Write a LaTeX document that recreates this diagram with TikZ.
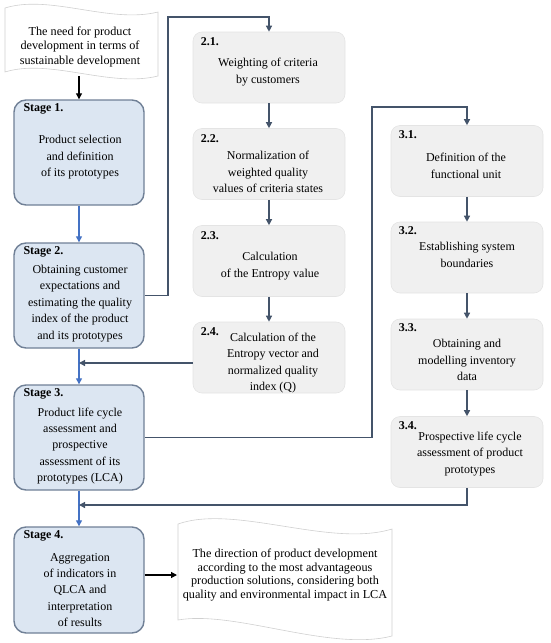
\documentclass[tikz,border=0pt]{standalone}
\usepackage{fontspec}
\setmainfont{Liberation Serif}
\usepackage{tikz}
\usetikzlibrary{arrows.meta}
\definecolor{stagefill}{RGB}{220,230,242}
\definecolor{stageline}{RGB}{112,128,150}
\definecolor{stepfill}{RGB}{240,240,240}
\definecolor{stepline}{RGB}{228,228,228}
\definecolor{linkcol}{RGB}{68,84,106}
\definecolor{stagearrow}{RGB}{68,114,196}
\definecolor{wavecol}{RGB}{208,208,208}

\begin{document}
\begin{tikzpicture}[x=1pt,y=-1pt,
  stagebox/.style={draw=stageline,line width=1.4pt,fill=stagefill,rounded corners=12pt,
    minimum width=130pt,minimum height=105pt,inner sep=0pt},
  stepbox/.style={draw=stepline,line width=0.6pt,fill=stepfill,rounded corners=9pt,
    minimum width=152pt,minimum height=71pt,inner sep=0pt},
  tag/.style={anchor=north west,inner sep=0pt,font=\bfseries\fontsize{12}{13}\selectfont},
  body/.style={align=center,inner sep=0pt,font=\fontsize{12}{16.4}\selectfont},
  wavetext/.style={align=center,inner sep=0pt,font=\fontsize{12.2}{13.8}\selectfont},
  wave/.style={draw=wavecol,line width=0.6pt,fill=white},
  link/.style={draw=linkcol,line width=1.3pt,-{Triangle[width=6pt,length=6pt]}},
  stagelink/.style={draw=stagearrow,line width=1.3pt,-{Triangle[width=6pt,length=6pt]}},
  plainlink/.style={draw=black,line width=1.2pt,-{Triangle[width=6pt,length=6pt]}}]
\useasboundingbox (0,0) rectangle (550,643);
% starting need:
\draw[wave] (5,8) .. controls (50,-6) and (110,24) .. (158,12) -- (158,76)
  .. controls (110,88) and (50,58) .. (5,72) -- cycle;
\node[wavetext,font=\fontsize{12.2}{14.5}\selectfont] (need) at (80,47) {The need for product\\development in terms of\\sustainable development};
\coordinate (needout) at (79,76);
% stages:
\node[stagebox] (s1) at (79,152.5) {};
\node[stagebox] (s2) at (79,295.5) {};
\node[stagebox] (s3) at (79,437.5) {};
\node[stagebox,minimum height=106pt] (s4) at (79,580) {};
\node[tag] at ([shift={(10,4)}]s1.north west) {Stage 1.};
\node[tag] at ([shift={(10,4)}]s2.north west) {Stage 2.};
\node[tag] at ([shift={(10,4)}]s3.north west) {Stage 3.};
\node[tag] at ([shift={(10,4)}]s4.north west) {Stage 4.};
\node[body] at (80,157.5) {Product selection\\and definition\\of its prototypes};
\node[body] at (80,303.5) {Obtaining customer\\expectations and\\estimating the quality\\index of the product\\and its prototypes};
\node[body] at (80,446) {Product life cycle\\assessment and\\prospective\\assessment of its\\prototypes (LCA)};
\node[body] at (80,590) {Aggregation\\of indicators in\\QLCA and\\interpretation\\of results};
% steps of stage 2:
\node[stepbox] (b21) at (269,67.5) {};
\node[stepbox] (b22) at (269,164) {};
\node[stepbox] (b23) at (269,261) {};
\node[stepbox] (b24) at (269,357.5) {};
\node[tag] at ([shift={(8,6)}]b21.north west) {2.1.};
\node[tag] at ([shift={(8,6)}]b22.north west) {2.2.};
\node[tag] at ([shift={(8,6)}]b23.north west) {2.3.};
\node[tag] at ([shift={(8,6)}]b24.north west) {2.4.};
\node[body] at (268,72) {Weighting of criteria\\by customers};
\node[body] at (268,172) {Normalization of\\weighted quality\\values of criteria states};
\node[body] at (270,266) {Calculation\\of the Entropy value};
\node[body] at (273,363) {Calculation of the\\Entropy vector and\\normalized quality\\index (Q)};
% steps of stage 3:
\node[stepbox] (b31) at (467,161) {};
\node[stepbox] (b32) at (467,257.5) {};
\node[stepbox] (b33) at (467,354.5) {};
\node[stepbox] (b34) at (467,452) {};
\node[tag] at ([shift={(8,5)}]b31.north west) {3.1.};
\node[tag] at ([shift={(8,5)}]b32.north west) {3.2.};
\node[tag] at ([shift={(8,5)}]b33.north west) {3.3.};
\node[tag] at ([shift={(8,5)}]b34.north west) {3.4.};
\node[body] at (466,166) {Definition of the\\functional unit};
\node[body] at (467,255) {Establishing system\\boundaries};
\node[body] at (467,360) {Obtaining and\\modelling inventory\\data};
\node[body] at (470,454) {Prospective life cycle\\assessment of product\\prototypes};
% result:
\draw[wave] (178,524) .. controls (235,504) and (330,548) .. (392,529) -- (392,636)
  .. controls (330,652) and (235,610) .. (178,620) -- cycle;
\node[wavetext] (goal) at (285,575) {The direction of product development\\according to the most advantageous\\production solutions, considering both\\quality and environmental impact in LCA};
\coordinate (goalin) at (177,575);
% connectors:
\coordinate (up2) at (168,17);
\coordinate (up3) at (372,107);
\coordinate (join2) at (79,363);
\coordinate (join3) at (79,505);
\draw[plainlink] (needout) -- (s1.north);
\draw[stagelink] (s1) -- (s2);
\draw[stagelink] (s2) -- (s3);
\draw[stagelink] (s3) -- (s4);
\draw[link] (s2.east) -| (up2) -| (b21.north);
\draw[link] (b21) -- (b22);
\draw[link] (b22) -- (b23);
\draw[link] (b23) -- (b24);
\draw[link] (b24.west |- join2) -- (join2);
\draw[link] (s3.east) -| (up3) -| (b31.north);
\draw[link] (b31) -- (b32);
\draw[link] (b32) -- (b33);
\draw[link] (b33) -- (b34);
\draw[link] (b34.south) |- (join3);
\draw[plainlink] (s4.east |- goalin) -- (goalin);
\end{tikzpicture}
\end{document}
